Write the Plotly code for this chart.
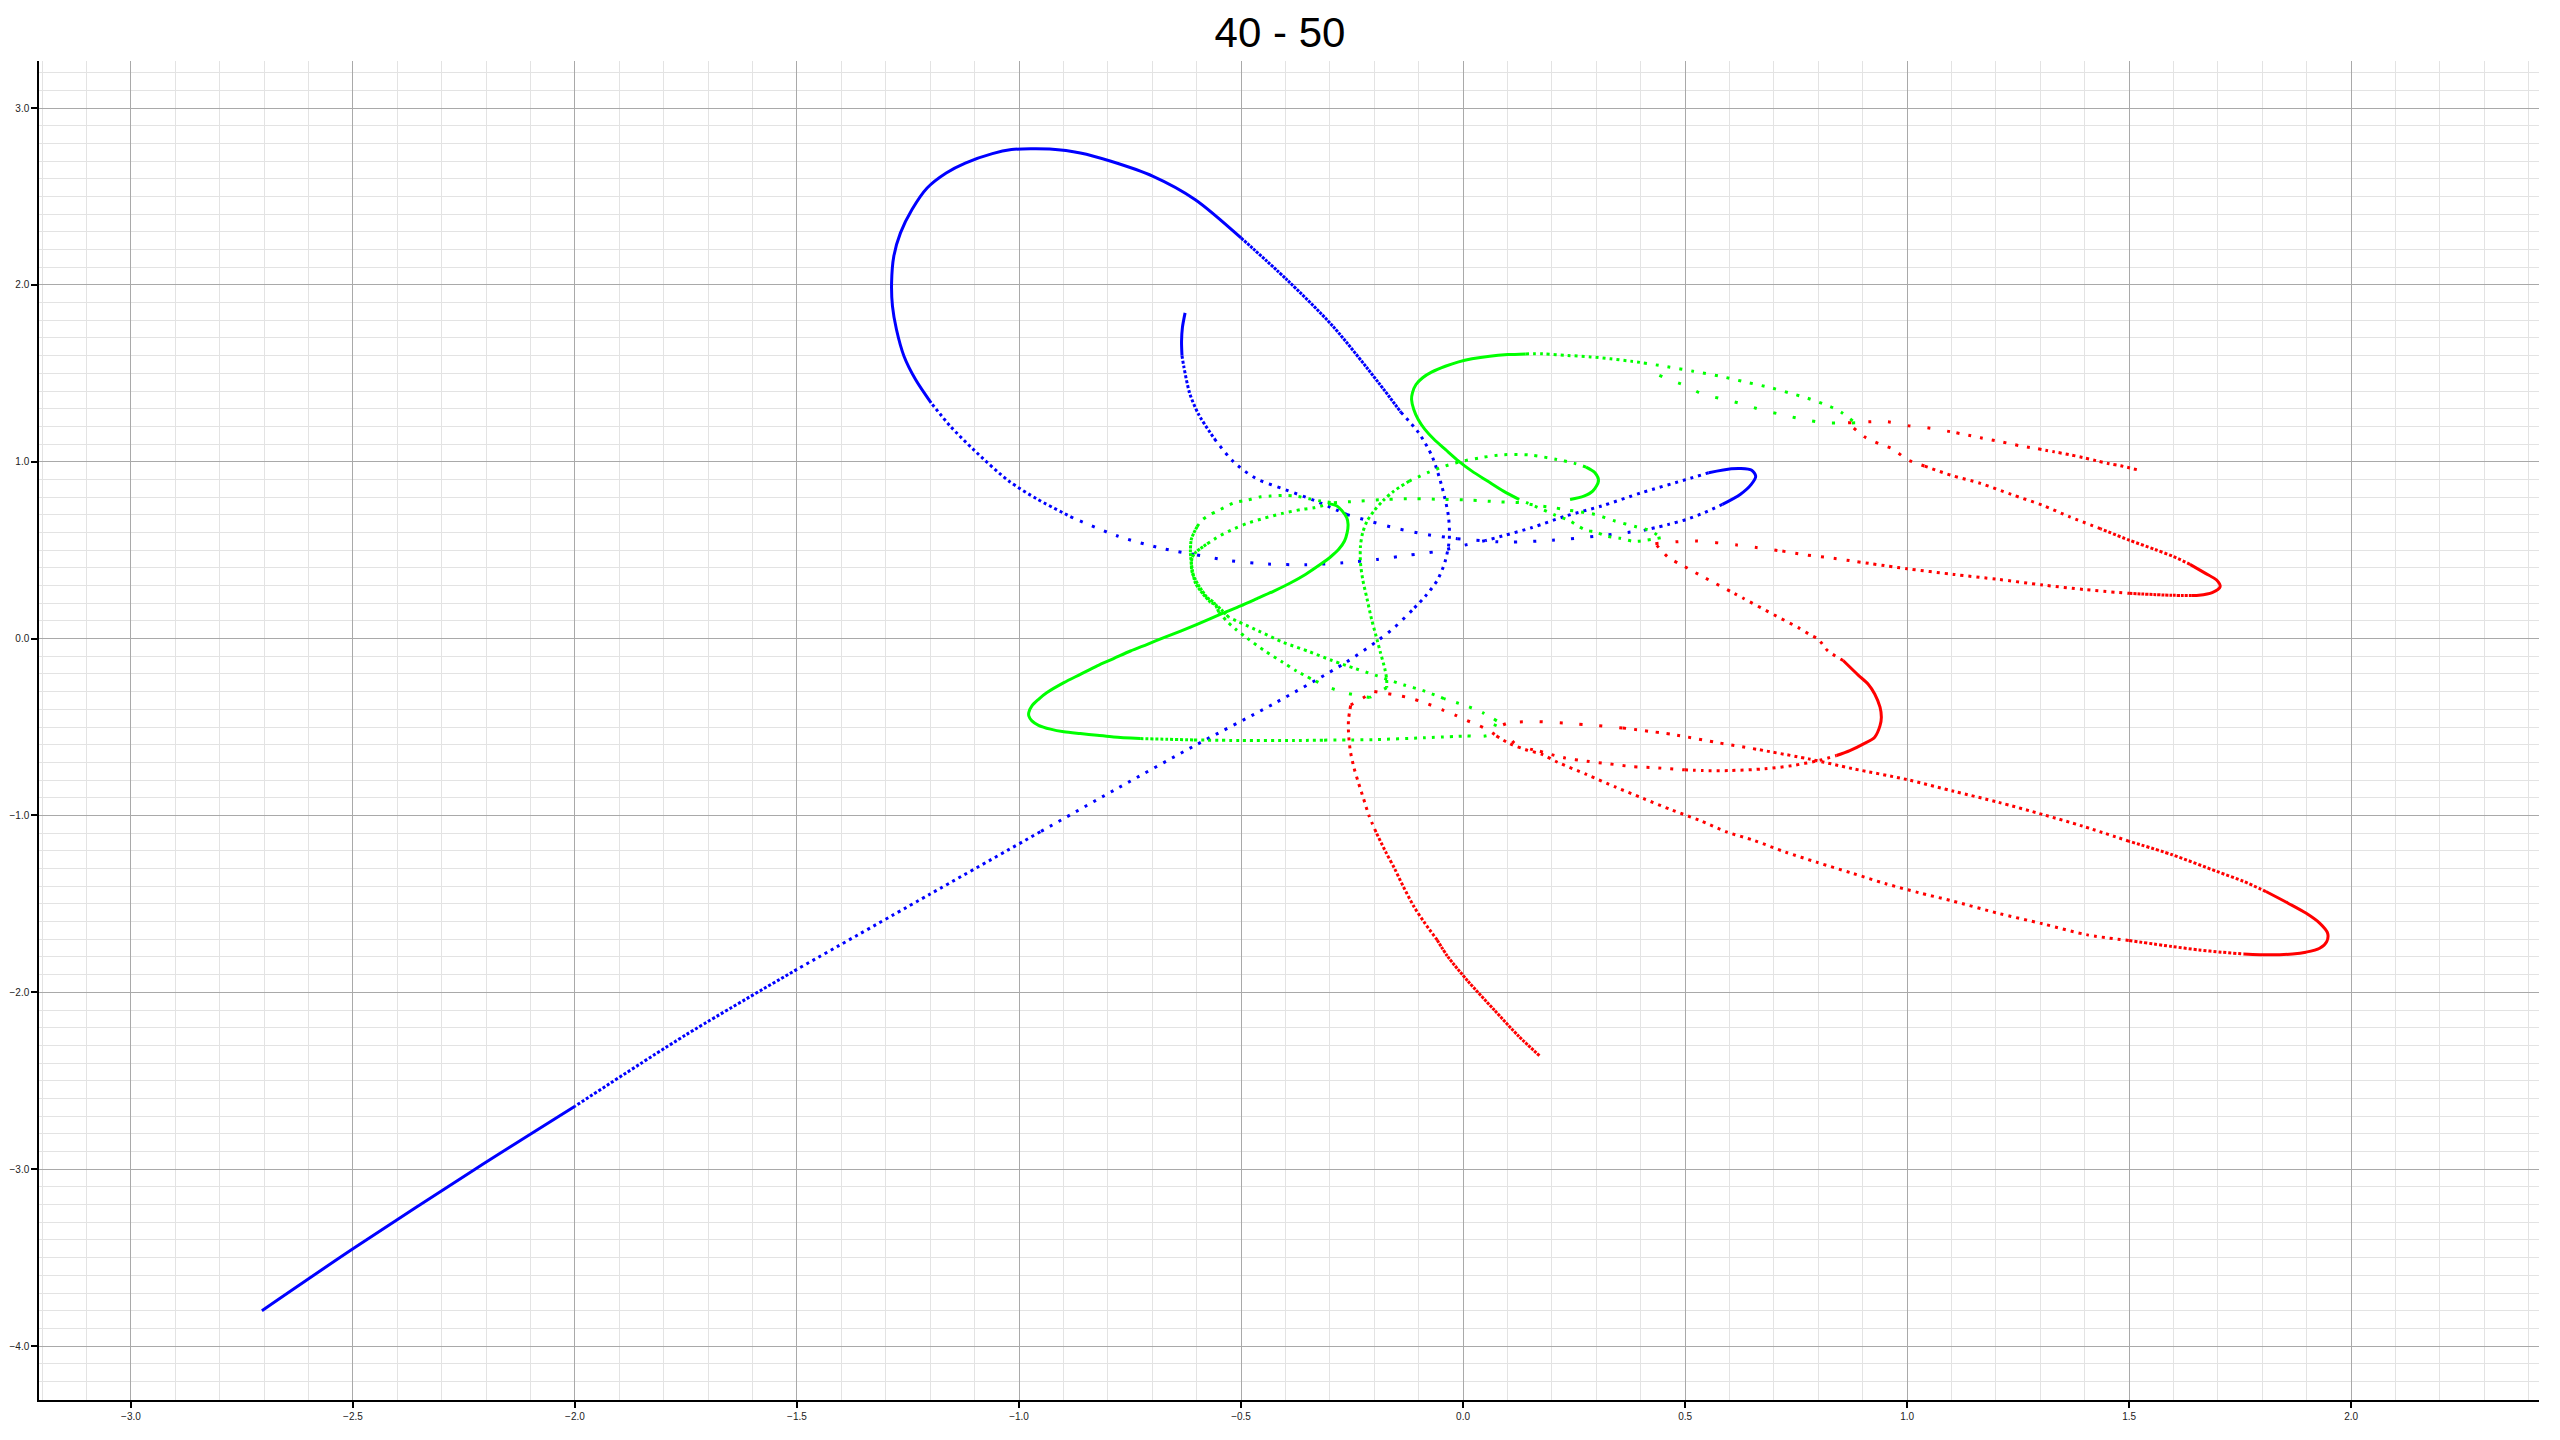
import plotly.graph_objects as go

TITLE = "40 - 50"
X_TICKS = [-3.0, -2.5, -2.0, -1.5, -1.0, -0.5, 0.0, 0.5, 1.0, 1.5, 2.0]
Y_TICKS = [-4.0, -3.0, -2.0, -1.0, 0.0, 1.0, 2.0, 3.0]
X_RANGE = [-3.207, 2.423]
Y_RANGE = [-4.305, 3.266]

# Trajectories; None separates pieces of one path
# (consecutive pieces share their end point).
BLUE_X = [
    -0.626, -0.632, -0.634, -0.633, None,
    -0.633, -0.629, -0.616, -0.596, -0.56, None,
    -0.56, -0.517, -0.466, -0.402, -0.332, -0.262, None,
    -0.262, -0.206, -0.146, -0.080, -0.013, None,
    -0.013, 0.096, 0.201, 0.302, 0.407, None,
    0.407, 0.463, 0.503, 0.543, 0.584, None,
    0.584, 0.624, 0.649, 0.659, 0.650, 0.625, 0.604, 0.553, None,
    0.553, 0.503, 0.402, 0.312, 0.231, 0.154, 0.094, 0.050, None,
    0.050, -0.005, -0.061, -0.125, -0.193, -0.270, -0.353, -0.440, -0.525, -0.605, None,
    -0.605, -0.678, -0.778, -0.878, None,
    -0.878, -0.959, -1.023, -1.103, -1.155, -1.198, None,
    -1.198, -1.233, -1.259, -1.276, -1.285, -1.287, -1.282, -1.267, -1.241, -1.207, -1.164,
    -1.121, -1.060, -1.017, -0.974, -0.931, -0.862, -0.793, -0.698, -0.603, -0.500, None,
    -0.500, -0.397, -0.293, -0.190, -0.140, None,
    -0.140, -0.100, -0.070, -0.048, -0.033, -0.031, -0.040, -0.058, -0.085, -0.115, None,
    -0.115, -0.156, -0.193, -0.268, -0.424, -0.605, -0.778, -0.952, None,
    -0.952, -1.200, -1.500, None,
    -1.500, -1.750, -2.000, None,
    -2.000, -2.225, -2.500, -2.705,
]
BLUE_Y = [
    1.842, 1.760, 1.680, 1.600, None,
    1.600, 1.540, 1.390, 1.270, 1.130, None,
    1.130, 1.000, 0.905, 0.844, 0.778, 0.702, None,
    0.702, 0.661, 0.621, 0.588, 0.565, None,
    0.565, 0.546, 0.556, 0.580, 0.612, None,
    0.612, 0.646, 0.674, 0.712, 0.759, None,
    0.759, 0.815, 0.872, 0.919, 0.952, 0.962, 0.960, 0.938, None,
    0.938, 0.900, 0.825, 0.750, 0.693, 0.627, 0.584, 0.554, None,
    0.554, 0.524, 0.492, 0.471, 0.448, 0.429, 0.418, 0.422, 0.441, 0.476, None,
    0.476, 0.510, 0.580, 0.682, None,
    0.682, 0.789, 0.891, 1.070, 1.202, 1.333, None,
    1.333, 1.465, 1.597, 1.748, 1.880, 2.011, 2.162, 2.294, 2.426, 2.548, 2.633,
    2.689, 2.742, 2.765, 2.770, 2.768, 2.746, 2.699, 2.614, 2.482, 2.266, None,
    2.266, 2.030, 1.766, 1.446, 1.280, None,
    1.280, 1.164, 1.032, 0.863, 0.693, 0.561, 0.440, 0.330, 0.240, 0.160, None,
    0.160, 0.060, -0.013, -0.141, -0.365, -0.606, -0.846, -1.092, None,
    -1.092, -1.444, -1.870, None,
    -1.870, -2.240, -2.644, None,
    -2.644, -3.000, -3.450, -3.800,
]

GREEN_X = [
    0.241, 0.272, 0.292, 0.305, 0.297, 0.277, None,
    0.277, 0.251, 0.211, 0.151, 0.091, 0.040, 0.000, -0.040, -0.080, -0.121, None,
    -0.121, -0.156, -0.181, -0.201, -0.216, -0.226, -0.231, -0.231, -0.226, -0.216, -0.206,
    -0.196, -0.186, -0.176, -0.172, -0.172, None,
    -0.172, -0.210, None,
    -0.210, -0.268, -0.300, -0.343, None,
    -0.343, -0.375, -0.407, -0.445, -0.486, -0.512, -0.531, -0.550, None,
    -0.550, -0.561, -0.576, -0.595, -0.603, -0.610, -0.612, -0.610, -0.603, -0.591, -0.576, None,
    -0.576, -0.561, -0.546, -0.516, -0.486, -0.449, -0.407, -0.362, -0.336, -0.300, None,
    -0.300, -0.284, -0.272, -0.262, -0.259, -0.261, -0.267, -0.280, -0.298, -0.321, -0.355,
    -0.388, -0.426, -0.464, -0.501, -0.542, -0.599, -0.636, -0.674, -0.711, -0.749, -0.787,
    -0.824, -0.862, -0.899, -0.937, -0.956, -0.971, -0.978, -0.978, -0.971, -0.956, -0.929,
    -0.899, -0.862, -0.824, -0.787, -0.727, None,
    -0.727, -0.666, -0.606, None,
    -0.606, -0.501, -0.381, -0.313, None,
    -0.313, -0.201, -0.090, 0.010, None,
    0.010, 0.059, 0.076, None,
    0.076, 0.044, 0.011, -0.043, None,
    -0.043, -0.090, -0.133, -0.193, -0.249, None,
    -0.249, -0.298, -0.347, -0.407, -0.460, -0.527, None,
    -0.527, -0.554, -0.569, -0.591, -0.603, -0.610, -0.614, -0.612, -0.606, -0.599, None,
    -0.599, -0.588, -0.573, -0.554, -0.539, -0.516, -0.486, -0.456, -0.434, -0.403, -0.377,
    -0.347, -0.321, -0.291, None,
    -0.291, -0.231, -0.174, -0.110, -0.043, 0.017, 0.077, 0.131, 0.161, 0.206, 0.241, None,
    0.241, 0.297, 0.342, 0.392, 0.424, 0.445, None,
    0.445, 0.387, 0.353, 0.323, 0.300, 0.277, 0.259, 0.241, 0.206, 0.161, 0.126, None,
    0.126, 0.091, 0.055, 0.020, -0.010, -0.040, -0.065, -0.086, -0.101, -0.111, -0.116,
    -0.114, -0.106, -0.091, -0.070, -0.040, -0.010, 0.020, 0.060, 0.101, 0.141, None,
    0.141, 0.181, 0.236, 0.287, 0.332, 0.377, 0.407, None,
    0.407, 0.460, 0.518, 0.578, 0.634, 0.694, 0.734, 0.775, 0.823, 0.850, 0.883, None,
    0.883, 0.815, 0.775, 0.717, 0.674, 0.624, 0.578, 0.538, 0.500, 0.463, 0.433, 0.407,
]
GREEN_Y = [
    0.787, 0.806, 0.834, 0.891, 0.938, 0.970, None,
    0.970, 0.991, 1.013, 1.038, 1.040, 1.023, 1.004, 0.976, 0.938, 0.891, None,
    0.891, 0.834, 0.778, 0.721, 0.665, 0.599, 0.524, 0.429, 0.335, 0.222, 0.109,
    0.015, -0.079, -0.173, -0.230, -0.277, None,
    -0.277, -0.333, None,
    -0.333, -0.305, -0.277, -0.226, None,
    -0.226, -0.183, -0.132, -0.072, 0.002, 0.053, 0.096, 0.150, None,
    0.150, 0.203, 0.232, 0.298, 0.335, 0.373, 0.420, 0.458, 0.486, 0.510, 0.537, None,
    0.537, 0.561, 0.584, 0.621, 0.652, 0.680, 0.708, 0.731, 0.740, 0.762, None,
    0.762, 0.750, 0.721, 0.684, 0.646, 0.599, 0.552, 0.505, 0.463, 0.420, 0.363,
    0.316, 0.269, 0.226, 0.185, 0.143, 0.081, 0.043, 0.006, -0.032, -0.070, -0.113,
    -0.154, -0.202, -0.249, -0.305, -0.343, -0.380, -0.418, -0.437, -0.465, -0.490, -0.512,
    -0.527, -0.537, -0.546, -0.556, -0.565, None,
    -0.565, -0.569, -0.573, None,
    -0.573, -0.576, -0.576, -0.574, None,
    -0.574, -0.571, -0.561, -0.550, None,
    -0.550, -0.544, -0.465, None,
    -0.465, -0.418, -0.384, -0.339, None,
    -0.339, -0.294, -0.262, -0.211, -0.164, None,
    -0.164, -0.121, -0.073, -0.019, 0.043, 0.119, None,
    0.119, 0.185, 0.207, 0.269, 0.316, 0.392, 0.486, 0.561, 0.599, 0.633, None,
    0.633, 0.670, 0.697, 0.721, 0.740, 0.768, 0.783, 0.802, 0.806, 0.810, 0.806,
    0.791, 0.778, 0.768, None,
    0.768, 0.778, 0.787, 0.791, 0.787, 0.783, 0.774, 0.768, 0.755, 0.740, 0.725, None,
    0.725, 0.702, 0.665, 0.631, 0.608, 0.570, None,
    0.570, 0.550, 0.567, 0.580, 0.602, 0.613, 0.636, 0.665, 0.700, 0.750, 0.787, None,
    0.787, 0.834, 0.891, 0.947, 1.004, 1.070, 1.126, 1.183, 1.239, 1.296, 1.352,
    1.390, 1.437, 1.475, 1.508, 1.540, 1.565, 1.582, 1.597, 1.606, 1.610, None,
    1.610, 1.610, 1.601, 1.593, 1.582, 1.569, 1.559, None,
    1.559, 1.537, 1.512, 1.484, 1.452, 1.418, 1.390, 1.360, 1.316, 1.283, 1.220, None,
    1.220, 1.220, 1.235, 1.267, 1.292, 1.330, 1.358, 1.384, 1.431, 1.465, 1.499, 1.522,
]

RED_X = [
    0.172, 0.126, 0.070, 0.010, -0.035, -0.058, None,
    -0.058, -0.088, -0.110, -0.135, -0.154, -0.174, -0.196, None,
    -0.196, -0.212, -0.224, -0.236, -0.246, -0.254, -0.258, -0.258, -0.253, None,
    -0.253, -0.200, None,
    -0.200, -0.124, -0.082, -0.048, -0.019, 0.006, 0.031, 0.056, 0.075, None,
    0.075, 0.106, 0.140, 0.178, 0.213, 0.278, 0.344, 0.404, 0.469, 0.533, 0.595, 0.655,
    0.726, 0.796, 0.876, 0.952, 1.027, 1.103, 1.205, 1.306, 1.406, 1.500, None,
    1.500, 1.597, 1.657, 1.708, 1.758, None,
    1.758, 1.818, 1.868, 1.898, 1.929, 1.945, 1.947, 1.929, 1.898, 1.858, 1.808, None,
    1.808, 1.758, 1.697, 1.597, 1.500, None,
    1.500, 1.396, 1.306, 1.205, 1.105, 1.000, 0.879, 0.778, 0.660, None,
    0.660, 0.575, 0.477, 0.359, None,
    0.359, 0.253, 0.158, 0.092, None,
    0.092, 0.115, 0.173, None,
    0.173, 0.228, 0.278, 0.329, 0.379, 0.439, 0.499, None,
    0.499, 0.540, 0.600, 0.680, 0.741, 0.801, 0.841, None,
    0.841, 0.871, 0.902, 0.927, 0.939, 0.942, 0.939, 0.927, 0.912, 0.891, 0.856, None,
    0.856, 0.821, 0.800, 0.780, 0.755, 0.715, 0.674, 0.631, 0.601, None,
    0.601, 0.540, 0.493, 0.463, 0.433, None,
    0.433, 0.521, 0.617, 0.719, None,
    0.719, 0.773, 0.823, 0.888, None,
    0.888, 1.000, 1.105, 1.205, 1.306, 1.401, 1.500, None,
    1.500, 1.597, 1.640, None,
    1.640, 1.657, 1.687, 1.705, 1.697, 1.672, 1.637, None,
    1.637, 1.597, 1.557, 1.500, 1.436, None,
    1.436, 1.366, 1.306, 1.235, 1.165, 1.100, 1.039, None,
    1.039, 1.000, 0.967, 0.937, 0.904, 0.867, None,
    0.867, 0.956, 1.004, 1.045, 1.111, None,
    1.111, 1.165, 1.212, 1.255, 1.295, None,
    1.295, 1.332, 1.366, 1.397, 1.426, 1.455, 1.481, 1.521,
]
RED_Y = [
    -2.358, -2.250, -2.099, -1.934, -1.796, -1.705, None,
    -1.705, -1.602, -1.518, -1.400, -1.301, -1.207, -1.094, None,
    -1.094, -1.000, -0.906, -0.812, -0.727, -0.633, -0.530, -0.460, -0.375, None,
    -0.375, -0.299, None,
    -0.299, -0.333, -0.367, -0.401, -0.431, -0.460, -0.486, -0.516, -0.550, None,
    -0.550, -0.595, -0.627, -0.655, -0.699, -0.768, -0.840, -0.902, -0.968, -1.028, -1.094, -1.141,
    -1.207, -1.264, -1.326, -1.386, -1.437, -1.484, -1.553, -1.613, -1.675, -1.707, None,
    -1.707, -1.741, -1.760, -1.773, -1.783, None,
    -1.783, -1.788, -1.783, -1.773, -1.751, -1.713, -1.666, -1.609, -1.552, -1.496, -1.430, None,
    -1.430, -1.373, -1.316, -1.222, -1.146, None,
    -1.146, -1.061, -0.995, -0.925, -0.863, -0.797, -0.736, -0.680, -0.625, None,
    -0.625, -0.589, -0.544, -0.505, None,
    -0.505, -0.482, -0.469, -0.476, None,
    -0.476, -0.590, -0.637, None,
    -0.637, -0.674, -0.693, -0.708, -0.723, -0.731, -0.742, None,
    -0.742, -0.746, -0.746, -0.736, -0.718, -0.689, -0.661, None,
    -0.661, -0.633, -0.595, -0.557, -0.492, -0.444, -0.388, -0.313, -0.256, -0.209, -0.124, None,
    -0.124, -0.068, -0.004, 0.024, 0.062, 0.115, 0.170, 0.228, 0.269, None,
    0.269, 0.350, 0.416, 0.458, 0.537, None,
    0.537, 0.552, 0.529, 0.495, None,
    0.495, 0.473, 0.458, 0.435, None,
    0.435, 0.395, 0.363, 0.335, 0.303, 0.277, 0.256, None,
    0.256, 0.245, 0.244, None,
    0.244, 0.245, 0.260, 0.294, 0.331, 0.369, 0.420, None,
    0.420, 0.467, 0.505, 0.557, 0.621, None,
    0.621, 0.689, 0.753, 0.815, 0.878, 0.923, 0.976, None,
    0.976, 1.013, 1.073, 1.102, 1.141, 1.220, None,
    1.220, 1.226, 1.203, 1.192, 1.164, None,
    1.164, 1.136, 1.113, 1.090, 1.073, None,
    1.073, 1.056, 1.040, 1.023, 1.006, 0.989, 0.977, 0.953,
]

# Style: approximate on-screen spacing (px) between the plotted samples, per piece
BLUE_SPACING = [2, 5, 9, 14, 19, 8, 2, 8, 18, 13, 6, 2, 4, 8, 10, 7, 5, 2]
GREEN_SPACING = [2, 10, 6, 18, 18, 8, 4, 8, 2, 5, 7, 9, 16, 14, 10, 7, 4, 10, 14, 11, 10, 2, 7, 12, 20]
RED_SPACING = [4, 5, 8, 14, 14, 8, 5, 2, 5, 7, 11, 20, 20, 12, 8, 2, 9, 12, 20, 13, 8, 4, 2, 5, 8, 13, 20, 12, 7]

COLORS = {"blue": "#0000ff", "green": "#00ff00", "red": "#ff0000"}


def pieces(xs, ys):
    out, cx, cy = [], [], []
    for x, y in zip(xs, ys):
        if x is None:
            out.append((cx, cy))
            cx, cy = [], []
        else:
            cx.append(x)
            cy.append(y)
    if cx:
        out.append((cx, cy))
    return out


fig = go.Figure()
for name, xs, ys, spacing in [
    ("blue", BLUE_X, BLUE_Y, BLUE_SPACING),
    ("green", GREEN_X, GREEN_Y, GREEN_SPACING),
    ("red", RED_X, RED_Y, RED_SPACING),
]:
    for (px, py), s in zip(pieces(xs, ys), spacing):
        dash = "solid" if s <= 3 else f"3px,{s - 3}px"
        fig.add_trace(go.Scatter(
            x=px, y=py, mode="lines",
            line=dict(color=COLORS[name], width=3, dash=dash, shape="spline", smoothing=0.8),
            showlegend=False, hoverinfo="skip",
        ))

axis_common = dict(
    showline=True, linecolor="black", linewidth=1.5,
    ticks="outside", ticklen=6, tickwidth=1.5, tickcolor="black",
    showgrid=True, gridcolor="#a9a9a9", gridwidth=1,
    zeroline=False, tickformat=".1f",
    tickfont=dict(family="Liberation Sans, Arial, sans-serif", size=10, color="#222222"),
    automargin=False, mirror=False,
)
fig.update_xaxes(
    range=X_RANGE, tickmode="array", tickvals=X_TICKS,
    minor=dict(dtick=0.1, tick0=0, showgrid=True, gridcolor="#e3e3e3", gridwidth=1, ticks=""),
    **axis_common,
)
fig.update_yaxes(
    range=Y_RANGE, tickmode="array", tickvals=Y_TICKS,
    minor=dict(dtick=0.1, tick0=0, showgrid=True, gridcolor="#e3e3e3", gridwidth=1, ticks=""),
    **axis_common,
)
fig.update_layout(
    width=2560, height=1440,
    margin=dict(l=39, r=21, t=61, b=40),
    paper_bgcolor="white", plot_bgcolor="white",
    title=dict(text=TITLE, x=0.5, xref="container", xanchor="center",
               y=1 - 32 / 1440, yref="container", yanchor="middle",
               font=dict(family="Liberation Sans, Arial, sans-serif", size=42, color="black")),
)
fig.write_html("out.html")
